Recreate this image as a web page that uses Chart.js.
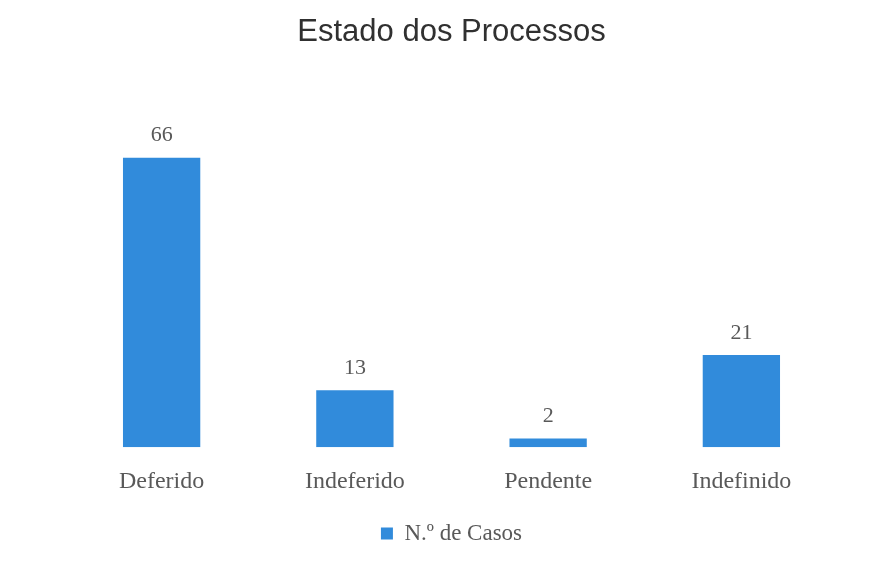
<!DOCTYPE html>
<html>
<head>
<meta charset="utf-8">
<script src="https://cdn.jsdelivr.net/npm/chart.js@4"></script>
<style>
  html, body { margin: 0; padding: 0; background: #fff; }
  #wrap { width: 873px; height: 568px; }
</style>
</head>
<body>
<div id="wrap"><canvas id="estadoChart" width="873" height="568"></canvas></div>
<script>
/* ---------- data ---------- */
const categorias = ['Deferido', 'Indeferido', 'Pendente', 'Indefinido'];
const nCasos = [66, 13, 2, 21];
const serieNome = 'N.º de Casos';

const AZUL = '#318bdb';
const CINZA = '#595959';
const SERIF = "'Liberation Serif', 'DejaVu Serif', serif";

/* ---------- value labels above bars ---------- */
const valueLabels = {
    id: 'valueLabels',
    afterDatasetsDraw(chart) {
        const ctx = chart.ctx;
        const meta = chart.getDatasetMeta(0);
        ctx.save();
        ctx.font = '22px ' + SERIF;
        ctx.fillStyle = CINZA;
        ctx.textAlign = 'center';
        ctx.textBaseline = 'bottom';
        meta.data.forEach((bar, i) => {
            ctx.fillText(String(chart.data.datasets[0].data[i]), bar.x, bar.y - 11);
        });
        ctx.restore();
    }
};

new Chart(document.getElementById('estadoChart'), {
    type: 'bar',
    data: {
        labels: categorias,
        datasets: [{
            label: serieNome,
            data: nCasos,
            backgroundColor: AZUL,
            borderWidth: 0,
            barPercentage: 0.4,
            categoryPercentage: 1
        }]
    },
    options: {
        responsive: false,
        animation: false,
        layout: { padding: { left: 65, right: 35, top: 0, bottom: 13 } },
        plugins: {
            title: {
                display: true,
                text: 'Estado dos Processos',
                color: '#303030',
                font: { family: "'Liberation Sans', Arial, sans-serif", size: 31, weight: 'normal' },
                padding: { top: 14, bottom: 67 }
            },
            legend: {
                position: 'bottom',
                labels: {
                    color: CINZA,
                    font: { family: SERIF, size: 23 },
                    boxWidth: 12,
                    boxHeight: 12,
                    padding: 6,
                    usePointStyle: false
                }
            },
            tooltip: { enabled: false }
        },
        scales: {
            x: {
                grid: { display: false, drawTicks: false },
                border: { display: false },
                ticks: {
                    color: CINZA,
                    font: { family: SERIF, size: 24 },
                    padding: 20
                }
            },
            y: {
                display: false,
                min: 0,
                max: 75
            }
        }
    },
    plugins: [valueLabels]
});
</script>
</body>
</html>
